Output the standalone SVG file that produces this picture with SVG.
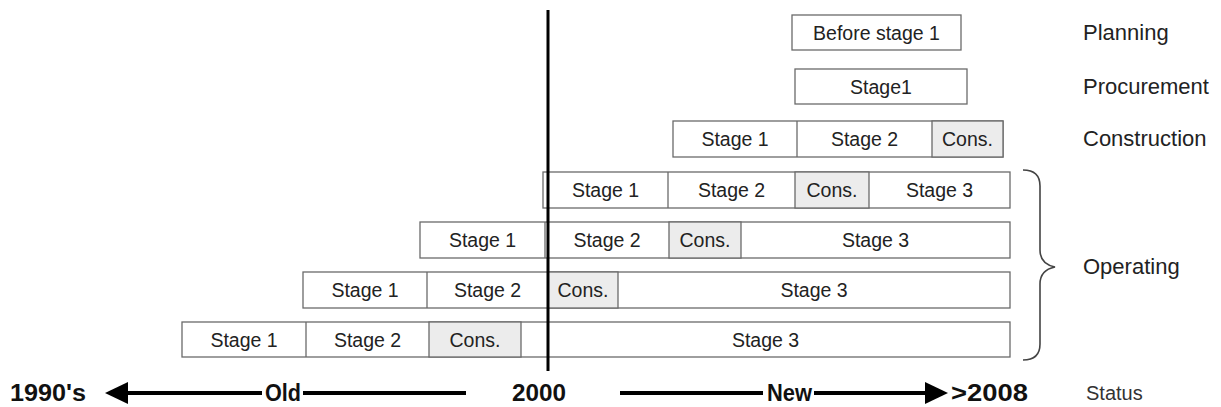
<svg xmlns="http://www.w3.org/2000/svg" width="1221" height="407" viewBox="0 0 1221 407">
<defs>
<style>
.box{fill:#fff;stroke:#6a6a6a;stroke-width:1.3}
.cons{fill:#ececec;stroke:#6a6a6a;stroke-width:1.3}
.div{stroke:#6a6a6a;stroke-width:1.3}
.t{font-family:"Liberation Sans",Arial,sans-serif;font-size:19.5px;fill:#222;text-anchor:middle}
.lab{font-family:"Liberation Sans",Arial,sans-serif;font-size:22px;fill:#222}
.ax{font-family:"Liberation Sans",Arial,sans-serif;font-size:23px;font-weight:bold;fill:#111}
.st{font-family:"Liberation Sans",Arial,sans-serif;font-size:20px;fill:#333}
.arr{stroke:#000;stroke-width:4;fill:none}
</style>
</defs>
<rect width="1221" height="407" fill="#fff"/>

<g id="planning">
<rect class="box" x="792" y="15" width="169" height="35"/>
<text class="t" x="876.5" y="39.5">Before stage 1</text>
</g>
<g id="procurement">
<rect class="box" x="795" y="69" width="172" height="35"/>
<text class="t" x="881" y="93.5">Stage1</text>
</g>
<g id="construction">
<rect class="box" x="673" y="121" width="330" height="36"/>
<rect class="cons" x="932" y="121" width="71" height="36"/>
<line class="div" x1="797" y1="121" x2="797" y2="157"/>
<text class="t" x="735" y="146">Stage 1</text>
<text class="t" x="864.5" y="146">Stage 2</text>
<text class="t" x="967.5" y="146">Cons.</text>
</g>
<g id="op1">
<rect class="box" x="543" y="172" width="467" height="36"/>
<rect class="cons" x="795" y="172" width="74" height="36"/>
<line class="div" x1="668" y1="172" x2="668" y2="208"/>
<text class="t" x="605.5" y="197">Stage 1</text>
<text class="t" x="731.5" y="197">Stage 2</text>
<text class="t" x="832" y="197">Cons.</text>
<text class="t" x="939.5" y="197">Stage 3</text>
</g>
<g id="op2">
<rect class="box" x="420" y="222" width="590" height="36"/>
<rect class="cons" x="669" y="222" width="72" height="36"/>
<line class="div" x1="545" y1="222" x2="545" y2="258"/>
<text class="t" x="482.5" y="247">Stage 1</text>
<text class="t" x="607" y="247">Stage 2</text>
<text class="t" x="705" y="247">Cons.</text>
<text class="t" x="875.5" y="247">Stage 3</text>
</g>
<g id="op3">
<rect class="box" x="303" y="272" width="707" height="36"/>
<rect class="cons" x="548" y="272" width="70" height="36"/>
<line class="div" x1="427" y1="272" x2="427" y2="308"/>
<text class="t" x="365" y="297">Stage 1</text>
<text class="t" x="487.5" y="297">Stage 2</text>
<text class="t" x="583" y="297">Cons.</text>
<text class="t" x="814" y="297">Stage 3</text>
</g>
<g id="op4">
<rect class="box" x="182" y="322" width="828" height="35"/>
<rect class="cons" x="429" y="322" width="92" height="35"/>
<line class="div" x1="306" y1="322" x2="306" y2="357"/>
<text class="t" x="244" y="346.5">Stage 1</text>
<text class="t" x="367.5" y="346.5">Stage 2</text>
<text class="t" x="475" y="346.5">Cons.</text>
<text class="t" x="765.5" y="346.5">Stage 3</text>
</g>

<g id="labels">
<text class="lab" x="1083" y="40">Planning</text>
<text class="lab" x="1083" y="94">Procurement</text>
<text class="lab" x="1083" y="146">Construction</text>
<text class="lab" x="1083" y="274">Operating</text>
</g>

<g id="connectors">
<line x1="548" y1="10" x2="548" y2="371" stroke="#000" stroke-width="3"/>
<path d="M1023,170 Q1040,170 1040,186 L1040,250 Q1040,264 1055,267 Q1040,270 1040,284 L1040,344 Q1040,360 1023,360" fill="none" stroke="#444" stroke-width="1.6"/>
<line class="arr" x1="125" y1="393" x2="262" y2="393"/>
<polygon points="105,393 128,382 128,404" fill="#000"/>
<line class="arr" x1="303" y1="393" x2="466" y2="393"/>
<line class="arr" x1="620" y1="393" x2="763" y2="393"/>
<line class="arr" x1="814" y1="393" x2="928" y2="393"/>
<polygon points="948,393 925,382 925,404" fill="#000"/>
</g>

<g id="axis">
<text class="ax" x="10" y="401" textLength="76" lengthAdjust="spacingAndGlyphs">1990's</text>
<text class="ax" x="265" y="401" textLength="36" lengthAdjust="spacingAndGlyphs">Old</text>
<text class="ax" x="512" y="401" textLength="54" lengthAdjust="spacingAndGlyphs">2000</text>
<text class="ax" x="767" y="401" textLength="45" lengthAdjust="spacingAndGlyphs">New</text>
<text class="ax" x="951" y="401" textLength="77" lengthAdjust="spacingAndGlyphs">&gt;2008</text>
<text class="st" x="1086" y="400">Status</text>
</g>
</svg>
